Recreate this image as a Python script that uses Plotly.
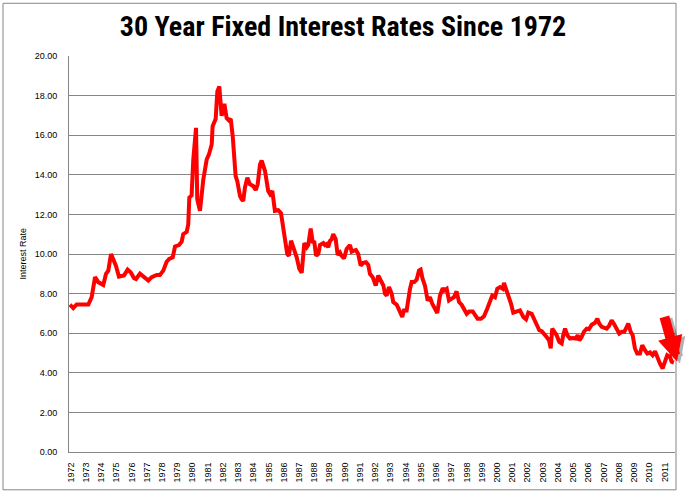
import plotly.graph_objects as go

# Decimal year positions and 30-year fixed rates (%)
years = [1971.95, 1972.17, 1972.39, 1973.16, 1973.38, 1973.60, 1973.81, 1974.14, 1974.32, 1974.47,
         1974.65, 1974.80, 1974.97, 1975.17, 1975.35, 1975.50, 1975.74, 1975.94, 1976.16, 1976.29,
         1976.55, 1976.81, 1977.10, 1977.32, 1977.65, 1977.86, 1978.08, 1978.30, 1978.47, 1978.70,
         1978.85, 1979.11, 1979.29, 1979.39, 1979.62, 1979.72, 1979.79, 1979.94, 1980.05, 1980.23,
         1980.31, 1980.49, 1980.71, 1980.93, 1981.08, 1981.26, 1981.32, 1981.52, 1981.63, 1981.76,
         1981.91, 1982.09, 1982.24, 1982.39, 1982.51, 1982.64, 1982.83, 1982.94, 1983.12, 1983.23,
         1983.33, 1983.44, 1983.60, 1983.77, 1983.99, 1984.15, 1984.28, 1984.43, 1984.54, 1984.76,
         1984.97, 1985.09, 1985.24, 1985.41, 1985.63, 1985.81, 1985.96, 1986.07, 1986.22, 1986.33,
         1986.47, 1986.66, 1986.84, 1987.01, 1987.17, 1987.34, 1987.50, 1987.60, 1987.76, 1987.89,
         1988.00, 1988.11, 1988.26, 1988.37, 1988.59, 1988.70, 1988.81, 1988.91, 1989.03, 1989.14,
         1989.24, 1989.40, 1989.53, 1989.68, 1989.79, 1989.95, 1990.12, 1990.34, 1990.45, 1990.60,
         1990.73, 1990.88, 1991.04, 1991.21, 1991.39, 1991.54, 1991.65, 1991.83, 1992.03, 1992.20,
         1992.37, 1992.53, 1992.64, 1992.75, 1992.90, 1993.08, 1993.18, 1993.41, 1993.58, 1993.77,
         1993.88, 1994.06, 1994.28, 1994.39, 1994.56, 1994.72, 1994.87, 1994.98, 1995.11, 1995.26,
         1995.44, 1995.59, 1995.74, 1995.92, 1996.07, 1996.25, 1996.43, 1996.53, 1996.69, 1996.84,
         1997.02, 1997.17, 1997.34, 1997.50, 1997.67, 1997.82, 1998.00, 1998.17, 1998.40, 1998.55,
         1998.72, 1998.94, 1999.14, 1999.35, 1999.53, 1999.68, 1999.86, 2000.01, 2000.19, 2000.37,
         2000.45, 2000.63, 2000.80, 2000.91, 2001.06, 2001.28, 2001.50, 2001.72, 2001.90, 2002.05,
         2002.27, 2002.42, 2002.60, 2002.77, 2002.93, 2003.10, 2003.25, 2003.41, 2003.52, 2003.62,
         2003.75, 2003.91, 2004.08, 2004.24, 2004.34, 2004.46, 2004.61, 2004.78, 2004.96, 2005.16,
         2005.29, 2005.40, 2005.55, 2005.70, 2005.88, 2006.03, 2006.21, 2006.43, 2006.58, 2006.71,
         2006.87, 2007.02, 2007.19, 2007.35, 2007.52, 2007.67, 2007.85, 2008.02, 2008.18, 2008.35,
         2008.51, 2008.61, 2008.77, 2008.90, 2009.05, 2009.20, 2009.38, 2009.53, 2009.71, 2009.86,
         2010.04, 2010.21, 2010.37, 2010.54, 2010.69, 2010.87, 2011.02, 2011.17, 2011.35, 2011.46,
         2011.61]

rates = [7.44, 7.27, 7.45, 7.45, 7.82, 8.83, 8.58, 8.44, 9.00, 9.16,
         10.00, 9.75, 9.41, 8.86, 8.86, 8.91, 9.21, 9.08, 8.78, 8.74,
         9.01, 8.84, 8.66, 8.83, 8.94, 8.94, 9.16, 9.61, 9.75, 9.83,
         10.38, 10.45, 10.62, 11.00, 11.12, 11.50, 12.85, 12.96, 14.77, 16.37,
         12.76, 12.18, 13.77, 14.77, 15.03, 15.53, 16.45, 16.82, 18.21, 18.46,
         16.98, 17.59, 16.87, 16.75, 16.82, 15.95, 13.94, 13.68, 12.93, 12.76,
         12.68, 13.35, 13.85, 13.52, 13.43, 13.23, 13.52, 14.52, 14.72, 14.19,
         13.18, 13.02, 13.18, 12.18, 12.21, 12.06, 11.17, 10.84, 10.00, 9.91,
         10.67, 10.25, 9.83, 9.25, 9.05, 10.55, 10.34, 10.45, 11.29, 10.62,
         10.59, 9.91, 10.00, 10.45, 10.55, 10.45, 10.50, 10.34, 10.67, 10.75,
         11.00, 10.75, 9.95, 10.08, 9.91, 9.78, 10.25, 10.45, 10.12, 10.17,
         10.20, 10.00, 9.41, 9.55, 9.58, 9.45, 9.00, 8.83, 8.41, 8.91,
         8.66, 8.41, 7.99, 7.90, 8.33, 7.99, 7.57, 7.44, 7.15, 6.82,
         7.15, 7.15, 8.24, 8.58, 8.58, 8.71, 9.16, 9.21, 8.74, 8.41,
         7.65, 7.82, 7.49, 7.24, 7.02, 7.90, 8.28, 8.16, 8.24, 7.65,
         7.74, 7.82, 8.11, 7.57, 7.44, 7.27, 6.98, 7.10, 7.10, 6.93,
         6.73, 6.73, 6.85, 7.24, 7.60, 7.90, 7.82, 8.24, 8.33, 8.24,
         8.54, 8.16, 7.82, 7.50, 7.04, 7.10, 7.15, 6.82, 6.70, 7.04,
         6.98, 6.73, 6.40, 6.15, 6.10, 5.90, 5.81, 5.64, 5.23, 6.23,
         6.07, 5.90, 5.56, 5.48, 5.90, 6.23, 5.90, 5.73, 5.76, 5.73,
         5.90, 5.64, 5.81, 6.07, 6.23, 6.20, 6.43, 6.53, 6.73, 6.48,
         6.32, 6.27, 6.23, 6.37, 6.65, 6.48, 6.23, 5.98, 6.07, 6.07,
         6.32, 6.48, 6.07, 5.90, 5.23, 4.97, 4.97, 5.39, 5.14, 4.97,
         5.03, 4.89, 5.09, 4.72, 4.47, 4.22, 4.56, 4.89, 4.81, 4.56,
         4.52]

tick_years = list(range(1972, 2012))
tick_labels = [str(y) for y in tick_years]
y_ticks = [0, 2, 4, 6, 8, 10, 12, 14, 16, 18, 20]

title_text = "30 Year Fixed Interest Rates Since 1972"
y_title = "Interest Rate"

GRID = "#868686"
TICKFONT = dict(family="Liberation Sans, Arial, sans-serif", size=9, color="#000000")

fig = go.Figure()
fig.add_trace(go.Scatter(
    x=years, y=rates, mode="lines",
    line=dict(color="#FF0000", width=4),
    hoverinfo="skip", showlegend=False,
))

fig.update_layout(
    width=686, height=494,
    margin=dict(l=69, r=11, t=56, b=40, pad=0),
    paper_bgcolor="white", plot_bgcolor="white",
    showlegend=False,
    title=dict(
        text=title_text,
        x=0.5, xref="container", xanchor="center",
        y=1 - 26 / 494, yref="container", yanchor="middle",
        font=dict(family="Liberation Sans Narrow, Roboto Condensed, Roboto, sans-serif",
                  size=28, color="#000000", weight="bold"),
    ),
    xaxis=dict(
        range=[1971.89, 2011.68],
        tickmode="array", tickvals=tick_years, ticktext=tick_labels,
        tickangle=-90, tickfont=TICKFONT,
        showgrid=False, zeroline=False,
        showline=True, linecolor=GRID, linewidth=1,
        ticks="outside", ticklen=6, tickcolor="rgba(0,0,0,0)",
    ),
    yaxis=dict(
        range=[0, 20],
        tickmode="array", tickvals=y_ticks,
        tickformat=".2f", tickfont=TICKFONT,
        showgrid=True, gridcolor=GRID, gridwidth=1,
        zeroline=False,
        showline=True, linecolor=GRID, linewidth=1,
        ticks="outside", ticklen=9, tickcolor="rgba(0,0,0,0)",
    ),
    shapes=[dict(
        type="rect", xref="paper", yref="paper",
        x0=(3 - 69) / 606, x1=(676 - 69) / 606,
        y0=(454 - 492) / 398, y1=(454 - 3) / 398,
        line=dict(color=GRID, width=1), fillcolor="rgba(0,0,0,0)", layer="below",
    )],
    annotations=[
        dict(text=y_title, xref="paper", yref="paper",
             x=(22.5 - 69) / 606, y=0.5, xanchor="center", yanchor="middle",
             textangle=-90, showarrow=False,
             font=dict(family="Liberation Sans, Arial, sans-serif", size=9, color="#000000")),
        # shadow of the highlight arrow
        dict(text="", xref="paper", yref="paper",
             x=(680 - 69) / 606, y=(454 - 365) / 398,
             ax=-13, ay=-46, showarrow=True, arrowhead=2, arrowsize=0.5,
             arrowwidth=10, arrowcolor="rgba(0,0,0,0.3)"),
        # highlight arrow
        dict(text="", xref="paper", yref="paper",
             x=(677 - 69) / 606, y=(454 - 363) / 398,
             ax=-13, ay=-46, showarrow=True, arrowhead=2, arrowsize=0.5,
             arrowwidth=10, arrowcolor="#FF0000"),
    ],
)

fig.write_html("out.html")
